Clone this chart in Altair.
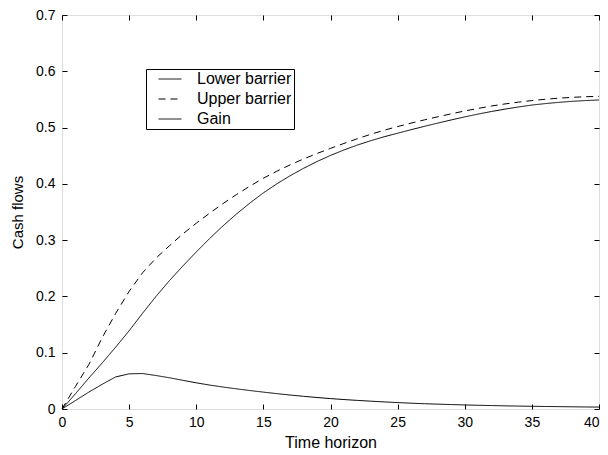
import altair as alt
import pandas as pd

# time horizon sample points
t = list(range(0, 41))

lower = [0.000, 0.027, 0.055, 0.082, 0.110, 0.139, 0.170, 0.200, 0.228, 0.254, 0.279,
         0.303, 0.3255, 0.3465, 0.366, 0.384, 0.400, 0.4145, 0.4277, 0.4397, 0.4505,
         0.4602, 0.4689, 0.4767, 0.4837, 0.4900, 0.4962, 0.5022, 0.5080, 0.5136, 0.5190,
         0.5240, 0.5286, 0.5328, 0.5366, 0.5400, 0.5426, 0.5448, 0.5466, 0.5480, 0.5490]

upper = [0.000, 0.040, 0.079, 0.127, 0.170, 0.209, 0.242, 0.268, 0.290, 0.311, 0.330,
         0.348, 0.365, 0.381, 0.396, 0.410, 0.4225, 0.4338, 0.4443, 0.4540, 0.4630,
         0.4718, 0.4802, 0.4881, 0.4953, 0.5018, 0.5079, 0.5137, 0.5192, 0.5245, 0.5295,
         0.5341, 0.5383, 0.5420, 0.5452, 0.5480, 0.5503, 0.5522, 0.5537, 0.5548, 0.5555]

gain = [0.000, 0.015, 0.030, 0.044, 0.057, 0.0625, 0.063, 0.0595, 0.0555, 0.051, 0.0465,
        0.0425, 0.039, 0.0358, 0.0328, 0.030, 0.0273, 0.0248, 0.0225, 0.0204, 0.0185,
        0.0168, 0.0153, 0.0139, 0.0126, 0.0114, 0.0103, 0.0094, 0.0086, 0.0079, 0.0072,
        0.0066, 0.0061, 0.0056, 0.0052, 0.0048, 0.0045, 0.0042, 0.0039, 0.0036, 0.0034]

series_names = ["Lower barrier", "Upper barrier", "Gain"]
x_ticks = [0, 5, 10, 15, 20, 25, 30, 35, 40]
y_ticks = [0, 0.1, 0.2, 0.3, 0.4, 0.5, 0.6, 0.7]

rows = []
for name, vals in zip(series_names, [lower, upper, gain]):
    for ti, vi in zip(t, vals):
        rows.append({"t": ti, "v": vi, "series": name})
df = pd.DataFrame(rows)

FONT = "Liberation Sans"

xscale = alt.Scale(domain=[0, 40], nice=False, zero=False)
yscale = alt.Scale(domain=[0, 0.7], nice=False, zero=False)

base = alt.Chart(df)

lines = base.mark_line(color="black", strokeWidth=1).encode(
    x=alt.X("t:Q", scale=xscale,
            axis=alt.Axis(orient="bottom", values=x_ticks, format="d", title="Time horizon",
                          offset=-5, tickSize=5, domain=False, grid=False,
                          labelPadding=6, labelFontSize=14, labelFont=FONT,
                          labelAlign={"condition": {"test": "datum.value == 40", "value": "right"},
                                      "value": "center"},
                          labelColor="black", tickColor="black",
                          titleFontSize=16, titleFont=FONT, titleFontWeight="normal",
                          titleColor="black", titlePadding=5)),
    y=alt.Y("v:Q", scale=yscale,
            axis=alt.Axis(orient="left", values=y_ticks, format="~g", title="Cash flows",
                          offset=-5, tickSize=5, domain=False, grid=False,
                          labelPadding=7, labelFontSize=14, labelFont=FONT,
                          labelColor="black", tickColor="black",
                          titleFontSize=15, titleFont=FONT, titleFontWeight="normal",
                          titleColor="black", titlePadding=10)),
    strokeDash=alt.StrokeDash(
        "series:N",
        scale=alt.Scale(domain=series_names, range=[[1, 0], [7, 5], [1, 0]]),
        legend=alt.Legend(orient="none", legendX=84, legendY=54, title=None,
                          strokeColor="black", fillColor="white", padding=2,
                          symbolType="M-2,0H2", symbolSize=132, symbolStrokeWidth=1,
                          symbolStrokeColor="black", symbolFillColor="transparent",
                          symbolOffset=14, labelOffset=19, labelFontSize=16,
                          labelExpr="datum.label + '\u00a0\u00a0\u00a0'",
                          labelFont=FONT, labelColor="black", rowPadding=4),
    ),
    detail="series:N",
)

frame_axes = base.mark_line(strokeOpacity=0).encode(
    x=alt.X("t:Q", scale=xscale,
            axis=alt.Axis(orient="top", values=x_ticks, labels=False, title=None,
                          offset=-5, tickSize=5, domain=False, grid=False,
                          tickColor="black")),
    y=alt.Y("v:Q", scale=yscale,
            axis=alt.Axis(orient="right", values=y_ticks, labels=False, title=None,
                          offset=-5, tickSize=5, domain=False, grid=False,
                          tickColor="black")),
    detail="series:N",
)

chart = alt.layer(lines, frame_axes).resolve_axis(
    x="independent", y="independent"
).properties(
    width=537, height=394,
    autosize=alt.AutoSizeParams(type="none"),
    padding={"left": 54, "top": 7, "right": 1, "bottom": 40},
).configure_view(
    stroke="black", strokeWidth=1.3
).configure(background="white")

chart.save("out.html", embed_options={"renderer": "svg", "actions": False})
